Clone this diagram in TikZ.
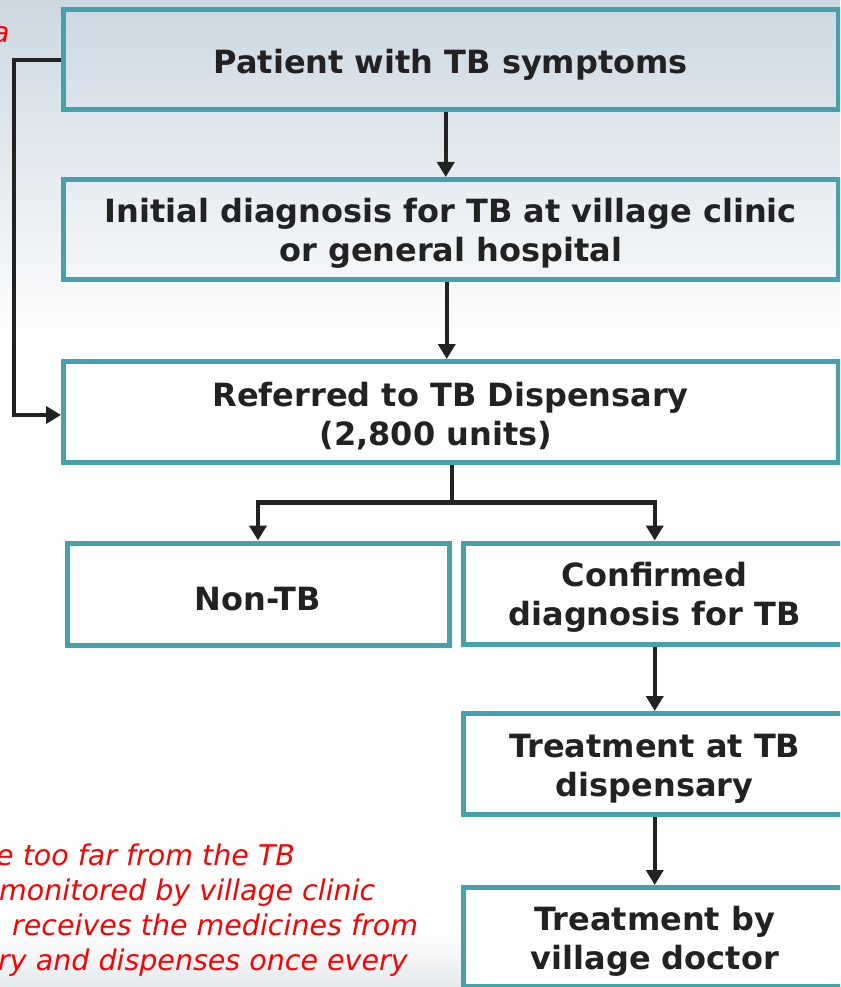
\documentclass[tikz,border=0pt]{standalone}
\usepackage{fontspec}
\setmainfont{DejaVu Sans}
\usetikzlibrary{arrows.meta}
\definecolor{teal1}{RGB}{69,161,171}
\definecolor{ink}{RGB}{34,34,34}
\definecolor{bgtop}{RGB}{204,216,226}
\definecolor{bgbot}{RGB}{230,234,237}
\newcommand\liftline{\rule{0pt}{32pt}}
\tikzset{
  box/.style={draw=teal1, line width=5pt, align=center, text=ink,
    font=\bfseries\fontsize{32}{39}\selectfont, inner sep=0pt},
  conn/.style={draw=ink, line width=4.5pt},
  arr/.style={conn, -{Triangle[width=17pt,length=15pt]}},
  note/.style={text=red, font=\itshape\fontsize{28.5}{35}\selectfont,
    anchor=base west, inner sep=0pt},
}
\begin{document}
\begin{tikzpicture}[x=1pt,y=-1pt]
\useasboundingbox (0,0) rectangle (840,987);
\clip (0,0) rectangle (840,987);
% background
\fill[white] (0,0) rectangle (840,987);
\shade[top color=bgtop, bottom color=white] (0,0) rectangle (840,350);
\shade[top color=white, bottom color=bgbot] (0,930) rectangle (840,987);
% boxes
\node[box, minimum width=774.5pt, minimum height=100pt] (p1) at (450.75,60) {\rule{0pt}{33pt}Patient with TB symptoms};
\node[box, minimum width=774.5pt, minimum height=100pt] (p2) at (450.75,229.5) {\liftline Initial diagnosis for TB at village clinic\\or general hospital};
\node[box, minimum width=774.5pt, minimum height=101pt, fill=white] (p3) at (450.75,412) {\liftline Referred to TB Dispensary\\(2,800 units)\hspace*{30pt}};
\node[box, minimum width=382pt, minimum height=102pt, fill=white] (nontb) at (258,594) {\rule{0pt}{33pt}Non-TB};
\node[box, minimum width=382.5pt, minimum height=101pt, fill=white] (conf) at (654.75,593.5) {\liftline Confirmed\\diagnosis for TB};
\node[box, minimum width=382.5pt, minimum height=101pt, fill=white] (treat) at (654.75,764) {\liftline Treatment at TB\\dispensary};
\node[box, minimum width=382.5pt, minimum height=99pt, fill=white] (vdoc) at (654.75,937) {\liftline Treatment by\\village doctor};
% connectors
\draw[arr] ([xshift=-5pt]p1.south) -- ([xshift=-5pt]p2.north);
\draw[arr] ([xshift=-4pt]p2.south) -- ([xshift=-4pt]p3.north);
\draw[arr] ([xshift=1pt]p3.south) -- ++(0,37.5) -| (nontb.north);
\draw[arr] ([xshift=1pt]p3.south) -- ++(0,37.5) -| (conf.north);
\draw[arr] (conf.south) -- (treat.north);
\draw[arr] (treat.south) -- (vdoc.north);
\draw[arr] (p1.west) -- ++(-47,0) |- ([yshift=-3pt]p3.west);
% red notes
\node[note] (na) at (-8,43) {a};
\node[note] (n1) at (-4,865) {e too far from the TB};
\node[note] (n2) at (-1,900) {monitored by village clinic};
\node[note] (n3) at (12,935) {receives the medicines from};
\node[note] (n4) at (-2,970) {ry and dispenses once every};
\end{tikzpicture}
\end{document}
